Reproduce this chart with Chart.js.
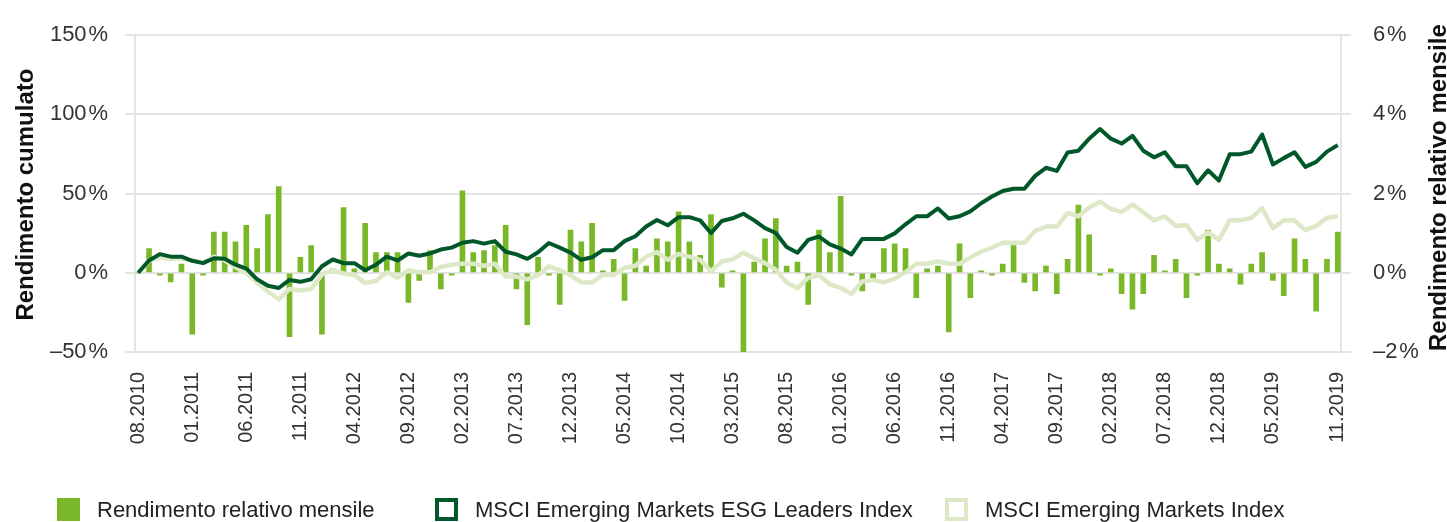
<!DOCTYPE html>
<html lang="it">
<head>
<meta charset="utf-8">
<title>Rendimento cumulato</title>
<script src="https://cdn.jsdelivr.net/npm/chart.js@4/dist/chart.umd.min.js"></script>
<style>
  html, body { margin: 0; padding: 0; background: #fff; }
  #wrap { position: relative; width: 1447px; height: 522px; font-family: "Liberation Sans", Arial, sans-serif; }
  #chart { position: absolute; left: 0; top: 0; }
  .leg { position: absolute; top: 498px; height: 23px; line-height: 23px; font-size: 22px; color: #222; white-space: nowrap; padding-left: 40px; }
  .leg i { position: absolute; left: 0; top: 0; width: 23px; height: 23px; box-sizing: border-box; }
</style>
</head>
<body>
<div id="wrap">
  <canvas id="chart" width="1447" height="522"></canvas>
  <div class="leg" style="left:57px"><i style="background:#7ab829"></i>Rendimento relativo mensile</div>
  <div class="leg" style="left:435px"><i style="border:4px solid #00582a;background:#fff"></i>MSCI Emerging Markets ESG Leaders Index</div>
  <div class="leg" style="left:945px"><i style="border:4px solid #dde9c6;background:#fff"></i>MSCI Emerging Markets Index</div>
</div>
<script>
// months 08.2010 .. 11.2019
const startYear = 2010, startMonth = 8, monthCount = 112;
const months = [];
for (let i = 0; i < monthCount; i++) {
    const m = (startMonth - 1 + i) % 12 + 1;
    const y = startYear + Math.floor((startMonth - 1 + i) / 12);
    months.push(String(m).padStart(2, '0') + '.' + y);
}
// labelled months on the x axis
const tickIndex = [0, 5, 10, 15, 20, 25, 30, 35, 40, 45, 50, 55, 60, 65, 70, 75, 80, 85, 90, 95, 100, 105, 111];

const leftTitle = 'Rendimento cumulato';
const rightTitle = 'Rendimento relativo mensile';
const leftTicks = [-50, 0, 50, 100, 150];
const rightTicks = [-2, 0, 2, 4, 6];

// cumulative return, %
const esgLeaders = [
    0, 7.8, 11.8, 10.2, 10.2, 7.6, 6.1, 9.2, 8.8, 5.1,
    2.7, -4.1, -8.2, -9.6, -4.5, -5.7, -4.1, 4.1, 8.4, 6.1,
    6.1, 1.6, 5.1, 10.2, 7.8, 12.2, 10.8, 12.2, 14.7, 15.9,
    19.0, 20.0, 18.4, 20.0, 13.3, 11.6, 8.8, 13.0, 18.8, 15.9,
    12.7, 8.2, 9.8, 14.3, 14.3, 20.0, 23.1, 29.2, 33.3, 30.0,
    35.1, 35.1, 33.1, 25.1, 32.7, 34.4, 37.3, 33.1, 28.2, 25.1,
    16.3, 12.7, 20.8, 22.9, 18.0, 15.3, 11.6, 21.4, 21.4, 21.4,
    24.9, 30.6, 35.7, 35.7, 40.6, 34.3, 35.7, 38.8, 43.9, 48.2,
    51.6, 53.1, 53.1, 61.2, 66.3, 64.3, 75.9, 77.1, 84.7, 90.8,
    84.7, 81.6, 86.5, 77.1, 72.9, 76.1, 67.3, 67.3, 56.5, 64.7,
    58.2, 74.9, 74.9, 76.5, 87.3, 68.4, 72.4, 76.1, 66.9, 70.0,
    76.5, 80.6
];
const emIndex = [
    0, 7.6, 9.8, 8.8, 8.8, 7.8, 6.5, 10.2, 7.8, 3.5,
    0, -6.1, -11.8, -16.7, -10.2, -11.2, -10.2, -1.0, 1.6, -0.4,
    -1.4, -6.5, -5.1, 0.4, -3.1, 1.6, 0.4, 0.4, 3.7, 5.1,
    5.7, 5.7, 4.5, 5.7, -2.4, -2.4, -4.1, -1.5, 4.1, 1.6,
    -1.6, -6.1, -6.1, -1.4, -1.4, 3.1, 4.5, 10.2, 13.1, 8.2,
    11.8, 10.2, 8.2, 1.0, 7.1, 8.5, 12.7, 9.2, 6.1, 2.0,
    -6.1, -9.8, -3.1, -1.6, -7.1, -9.6, -13.3, -5.5, -4.5, -6.1,
    -3.7, 0.4, 5.7, 5.7, 7.3, 5.7, 5.7, 9.6, 13.3, 15.9,
    19.0, 19.0, 19.0, 26.5, 29.2, 29.2, 37.8, 35.7, 41.2, 44.9,
    40.4, 38.4, 43.1, 38.2, 33.1, 35.7, 29.6, 30.2, 20.8, 25.5,
    20.8, 33.1, 33.1, 34.7, 40.8, 28.2, 33.1, 33.1, 26.9, 29.6,
    34.7, 35.7
];
// monthly relative return, %
const relMonthly = [
    0, 0.61, -0.06, -0.23, 0.22, -1.55, -0.06, 1.03, 1.03, 0.78,
    1.2, 0.61, 1.47, 2.18, -1.61, 0.39, 0.69, -1.55, 0.1, 1.65,
    0.1, 1.25, 0.51, 0.51, 0.51, -0.75, -0.19, 0.56, -0.41, -0.06,
    2.07, 0.51, 0.56, 0.69, 1.2, -0.41, -1.31, 0.39, -0.06, -0.8,
    1.08, 0.78, 1.25, 0.05, 0.34, -0.7, 0.61, 0.17, 0.86, 0.78,
    1.54, 0.78, 0.44, 1.47, -0.36, 0.05, -2.0, 0.27, 0.86, 1.37,
    0.17, 0.27, -0.8, 1.08, 0.51, 1.93, -0.06, -0.46, -0.14, 0.61,
    0.73, 0.61, -0.63, 0.1, 0.17, -1.49, 0.73, -0.63, 0.05, -0.06,
    0.22, 0.69, -0.24, -0.46, 0.17, -0.53, 0.34, 1.71, 0.96, -0.06,
    0.1, -0.53, -0.92, -0.53, 0.44, 0.05, 0.34, -0.63, -0.06, 1.08,
    0.22, 0.1, -0.29, 0.22, 0.51, -0.19, -0.58, 0.86, 0.34, -0.97,
    0.34, 1.03
];

const FONT = '"Liberation Sans", Arial, sans-serif';
const GRID = '#e4e4e4';

function pct(v) {
    return (v < 0 ? '\u2013' + Math.abs(v) : String(v)) + '\u200a%';
}
function toXY(arr) {
    return arr.map((v, i) => ({ x: i, y: v }));
}

// axis titles, both read bottom to top
const axisTitles = {
    id: 'axisTitles',
    afterDraw(chart) {
        const ctx = chart.ctx;
        const area = chart.chartArea;
        const midY = (area.top + area.bottom) / 2;
        ctx.save();
        ctx.font = 'bold 24px ' + FONT;
        ctx.fillStyle = '#111';
        ctx.textAlign = 'center';
        ctx.textBaseline = 'alphabetic';
        [[leftTitle, 33, midY + 1], [rightTitle, chart.width - 1, midY - 6]].forEach(t => {
            ctx.save();
            ctx.translate(t[1], t[2]);
            ctx.rotate(-Math.PI / 2);
            ctx.fillText(t[0], 0, 0);
            ctx.restore();
        });
        ctx.restore();
    }
};

const ctx = document.getElementById('chart').getContext('2d');
const chart = new Chart(ctx, {
    data: {
        datasets: [
            {
                type: 'line',
                label: 'MSCI Emerging Markets ESG Leaders Index',
                data: toXY(esgLeaders),
                yAxisID: 'y',
                borderColor: '#00582a',
                borderWidth: 4,
                pointRadius: 0,
                tension: 0,
                borderJoinStyle: 'round',
                order: 1
            },
            {
                type: 'line',
                label: 'MSCI Emerging Markets Index',
                data: toXY(emIndex),
                yAxisID: 'y',
                borderColor: '#dde9c6',
                borderWidth: 4.5,
                pointRadius: 0,
                tension: 0,
                borderJoinStyle: 'round',
                order: 2
            },
            {
                type: 'bar',
                label: 'Rendimento relativo mensile',
                data: toXY(relMonthly),
                yAxisID: 'y1',
                backgroundColor: '#7ab829',
                barThickness: 5,
                order: 3
            }
        ]
    },
    options: {
        responsive: false,
        animation: false,
        layout: { padding: { top: 26, left: 0, right: 0, bottom: 0 } },
        plugins: {
            legend: { display: false },
            tooltip: { enabled: false }
        },
        scales: {
            x: {
                type: 'linear',
                min: -0.3,
                max: 111.3,
                offset: false,
                afterBuildTicks: scale => { scale.ticks = tickIndex.map(v => ({ value: v })); },
                afterFit: scale => { scale.height = 170; },
                grid: { display: false, drawTicks: false, offset: false },
                border: { display: false },
                ticks: {
                    autoSkip: false,
                    maxRotation: 90,
                    minRotation: 90,
                    padding: 20,
                    color: '#333',
                    font: { family: FONT, size: 20 },
                    callback: v => months[v]
                }
            },
            y: {
                position: 'left',
                min: -50,
                max: 150,
                afterBuildTicks: scale => { scale.ticks = leftTicks.map(v => ({ value: v })); },
                afterFit: scale => { scale.width = 135; },
                grid: { color: GRID, lineWidth: 2, tickLength: 10, drawTicks: true },
                border: { display: true, color: GRID, width: 2 },
                ticks: {
                    padding: 17,
                    color: '#333',
                    font: { family: FONT, size: 22 },
                    callback: v => pct(v)
                }
            },
            y1: {
                position: 'right',
                min: -2,
                max: 6,
                afterBuildTicks: scale => { scale.ticks = rightTicks.map(v => ({ value: v })); },
                afterFit: scale => { scale.width = 106; },
                grid: { color: GRID, lineWidth: 2, tickLength: 10, drawTicks: true, drawOnChartArea: false },
                border: { display: true, color: GRID, width: 2 },
                ticks: {
                    padding: 22,
                    color: '#333',
                    font: { family: FONT, size: 22 },
                    callback: v => pct(v)
                }
            }
        }
    },
    plugins: [axisTitles]
});
</script>
</body>
</html>
